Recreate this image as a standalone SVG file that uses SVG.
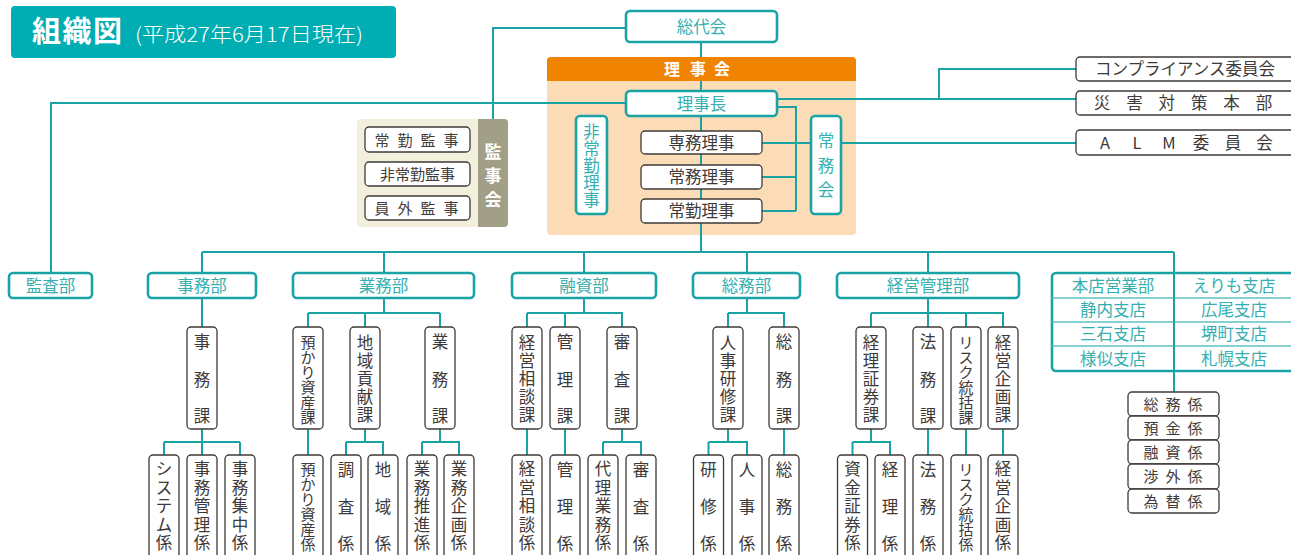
<svg xmlns="http://www.w3.org/2000/svg" width="1291" height="555" viewBox="0 0 1291 555">
<style>
text{font-family:"Noto Sans CJK JP","Noto Sans",sans-serif;}
.tl{fill:#35afb0;font-size:16.5px;text-anchor:middle;}
.dk{fill:#3e3a39;font-size:16.5px;text-anchor:middle;}
.d6{fill:#3e3a39;font-size:15px;text-anchor:middle;}
.ds{fill:#3e3a39;font-size:15px;text-anchor:middle;}
.tbox{fill:#fff;stroke:#19a3a5;stroke-width:2.6;}
.dbox{fill:#fff;stroke:#3e3a39;stroke-width:1.3;}
.ln{fill:none;stroke:#19a3a5;stroke-width:2;}
.dv{fill:none;stroke:#5fc1c2;stroke-width:1.5;}
</style>

<g id="title">
<rect x="11" y="6" width="385" height="52" rx="4" fill="#00adb2"/>
<text x="32" y="42" font-size="29" font-weight="bold" fill="#fff" letter-spacing="1.5">組織図</text>
<text x="135" y="41.5" font-size="20" font-weight="300" fill="#fff" textLength="228" lengthAdjust="spacingAndGlyphs">(平成27年6月17日現在)</text>
</g>

<g id="backgrounds">
<rect x="547" y="57" width="309" height="178" rx="4" fill="#fcdcb7"/>
<rect x="357" y="119" width="151" height="108" rx="4" fill="#f2efdc"/>
</g>

<g id="connectors">
<path class="ln" d="M701,42V57M701,81V252"/>
<path class="ln" d="M626,28H493V119"/>
<path class="ln" d="M626,103H51V273"/>
<path class="ln" d="M777,99H1076M939,99V69H1076"/>
<path class="ln" d="M777,107H796V211M762,143H811M762,177H796M762,211H796"/>
<path class="ln" d="M841,143H1076"/>
<path class="ln" d="M202,252H1174M202,252V273M384,252V273M584,252V273M747,252V273M928,252V273M1174,252V392"/>
<path class="ln" d="M202,298V327M202,429V455M164,442H240M164,442V455M240,442V455"/>
<path class="ln" d="M384,298V313M308,313H440M308,313V327M365,313V327M440,313V327M308,429V455M365,429V442M346,442H383V455M346,442V455M440,429V442M422,442H459V455M422,442V455"/>
<path class="ln" d="M584,298V313M527,313H622V327M527,313V327M565,313V327M527,429V455M565,429V455M622,429V442M603,442H641V455M603,442V455"/>
<path class="ln" d="M747,298V313M728,313H784V327M728,313V327M728,429V442M708.5,442H747V455M708.5,442V455M784,429V455"/>
<path class="ln" d="M928,298V313M871,313H1003V327M871,313V327M928,313V327M966,313V327M871,429V442M852.5,442H890V455M852.5,442V455M928,429V455M966,429V455M1003,429V455"/>
</g>

<g id="sodaikai">
<rect class="tbox" x="626" y="11" width="151" height="31" rx="4"/>
<text class="tl" x="701.5" y="32.5">総代会</text>
</g>

<g id="rijikai">
<path d="M547,81V61a4,4 0 0 1 4,-4H852a4,4 0 0 1 4,4V81Z" fill="#f08300"/>
<text x="672 698 722" y="75" font-size="16" font-weight="bold" fill="#fff" text-anchor="middle">理事会</text>
</g>

<g id="rijicho">
<rect class="tbox" x="626" y="91" width="151" height="25" rx="4"/>
<text class="tl" x="701.5" y="109.5">理事長</text>
</g>

<g id="hijokin">
<rect class="tbox" x="576" y="116" width="31" height="98" rx="4"/>
<text class="tl" font-size="16" x="591.5 591.5 591.5 591.5 591.5" y="138 155 172 189 206">非常勤理事</text>
</g>

<g id="senmu">
<rect class="dbox" x="641" y="131" width="121" height="23" rx="4"/>
<text class="dk" x="701.5" y="148.5">専務理事</text>
</g>
<g id="jomu">
<rect class="dbox" x="641" y="165" width="121" height="24" rx="4"/>
<text class="dk" x="701.5" y="183">常務理事</text>
</g>
<g id="jokin">
<rect class="dbox" x="641" y="199" width="121" height="24" rx="4"/>
<text class="dk" x="701.5" y="217">常勤理事</text>
</g>

<g id="jomukai">
<rect class="tbox" x="811" y="116" width="30" height="98" rx="4"/>
<text class="tl" x="826 826 826" y="147 172 196">常務会</text>
</g>

<g id="kanjikai">
<path d="M478,119H504a4,4 0 0 1 4,4V223a4,4 0 0 1 -4,4H478Z" fill="#a19f87"/>
<text x="493 493 493" y="157.5 181.5 206" font-size="17" font-weight="bold" fill="#fff" text-anchor="middle">監事会</text>
<rect class="dbox" x="365" y="127" width="105" height="25" rx="4"/>
<text class="ds" x="382 405 428 451" y="145.5">常勤監事</text>
<rect class="dbox" x="365" y="162" width="105" height="24" rx="4"/>
<text class="ds" x="417.5" y="179.5" font-size="16">非常勤監事</text>
<rect class="dbox" x="365" y="196" width="105" height="24" rx="4"/>
<text class="ds" x="382 405 428 451" y="213.5">員外監事</text>
</g>

<g id="compliance">
<rect class="dbox" x="1076" y="57" width="240" height="24" rx="4"/>
<text class="dk" font-size="16" x="1185" y="75">コンプライアンス委員会</text>
</g>
<g id="saigai">
<rect class="dbox" x="1076" y="91" width="240" height="24" rx="4"/>
<text class="dk" font-size="16" x="1102 1134.4 1166.8 1199.2 1231.6 1264" y="109">災害対策本部</text>
</g>
<g id="alm">
<rect class="dbox" x="1076" y="130" width="240" height="25" rx="4"/>
<text class="dk" font-size="16" x="1105 1137 1169 1201 1233 1264.5" y="148.5">ALM委員会</text>
</g>

<g id="kansabu"><rect class="tbox" x="9" y="273" width="83" height="25" rx="4"/><text class="tl" x="50.5" y="291.5">監査部</text></g>
<g id="jimubu"><rect class="tbox" x="148" y="273" width="108" height="25" rx="4"/><text class="tl" x="202" y="291.5">事務部</text></g>
<g id="gyomubu"><rect class="tbox" x="293" y="273" width="181" height="25" rx="4"/><text class="tl" x="383.5" y="291.5">業務部</text></g>
<g id="yushibu"><rect class="tbox" x="512" y="273" width="144" height="25" rx="4"/><text class="tl" x="584" y="291.5">融資部</text></g>
<g id="somubu"><rect class="tbox" x="693" y="273" width="107" height="25" rx="4"/><text class="tl" x="746.5" y="291.5">総務部</text></g>
<g id="keieikanribu"><rect class="tbox" x="837" y="273" width="182" height="25" rx="4"/><text class="tl" x="928" y="291.5">経営管理部</text></g>

<g id="branches">
<rect class="tbox" x="1052" y="273" width="260" height="98" rx="4"/>
<path class="dv" d="M1052,298H1291M1052,322H1291M1052,346H1291"/>
<path class="ln" d="M1174,273V371"/>
<text class="tl" x="1113" y="291.5">本店営業部</text>
<text class="tl" x="1234" y="291.5">えりも支店</text>
<text class="tl" x="1113" y="316">静内支店</text>
<text class="tl" x="1234" y="316">広尾支店</text>
<text class="tl" x="1113" y="340">三石支店</text>
<text class="tl" x="1234" y="340">堺町支店</text>
<text class="tl" x="1113" y="364.5">様似支店</text>
<text class="tl" x="1234" y="364.5">札幌支店</text>
</g>

<g id="branch-kakari">
<rect class="dbox" x="1128" y="392" width="91" height="24" rx="4"/>
<text class="ds" x="1151 1173 1195" y="409.5">総務係</text>
<rect class="dbox" x="1128" y="416" width="91" height="24" rx="4"/>
<text class="ds" x="1151 1173 1195" y="433.5">預金係</text>
<rect class="dbox" x="1128" y="440" width="91" height="24" rx="4"/>
<text class="ds" x="1151 1173 1195" y="457.5">融資係</text>
<rect class="dbox" x="1128" y="464" width="91" height="25" rx="4"/>
<text class="ds" x="1151 1173 1195" y="482">渉外係</text>
<rect class="dbox" x="1128" y="489" width="91" height="24" rx="4"/>
<text class="ds" x="1151 1173 1195" y="506.5">為替係</text>
</g>

<g id="ka-jimu"><rect class="dbox" x="187" y="327" width="30" height="102" rx="4"/><text class="dk" x="202 202 202" y="348 386 422">事務課</text></g>
<g id="ka-azukari"><rect class="dbox" x="293" y="327" width="30" height="102" rx="4"/><text class="d6" x="308 308 308 308 308 308" y="348 363 378 393 408 423">預かり資産課</text></g>
<g id="ka-chiiki"><rect class="dbox" x="350" y="327" width="30" height="102" rx="4"/><text class="dk" x="365 365 365 365 365" y="348.5 366.5 384.5 403 421">地域貢献課</text></g>
<g id="ka-gyomu"><rect class="dbox" x="425" y="327" width="30" height="102" rx="4"/><text class="dk" x="440 440 440" y="348 386 422">業務課</text></g>
<g id="ka-keieisodan"><rect class="dbox" x="512" y="327" width="30" height="102" rx="4"/><text class="dk" x="527 527 527 527 527" y="348.5 366.5 384.5 403 421">経営相談課</text></g>
<g id="ka-kanri"><rect class="dbox" x="550" y="327" width="30" height="102" rx="4"/><text class="dk" x="565 565 565" y="348 386 422">管理課</text></g>
<g id="ka-shinsa"><rect class="dbox" x="607" y="327" width="30" height="102" rx="4"/><text class="dk" x="622 622 622" y="348 386 422">審査課</text></g>
<g id="ka-jinji"><rect class="dbox" x="713" y="327" width="30" height="102" rx="4"/><text class="dk" x="728 728 728 728 728" y="348.5 366.5 384.5 403 421">人事研修課</text></g>
<g id="ka-somu"><rect class="dbox" x="769" y="327" width="30" height="102" rx="4"/><text class="dk" x="784 784 784" y="348 386 422">総務課</text></g>
<g id="ka-keiri"><rect class="dbox" x="856" y="327" width="30" height="102" rx="4"/><text class="dk" x="871 871 871 871 871" y="348.5 366.5 384.5 403 421">経理証券課</text></g>
<g id="ka-homu"><rect class="dbox" x="913" y="327" width="30" height="102" rx="4"/><text class="dk" x="928 928 928" y="348 386 422">法務課</text></g>
<g id="ka-risk"><rect class="dbox" x="951" y="327" width="30" height="102" rx="4"/><text class="d6" x="966 966 966 966 966 966" y="348 363 378 393 408 423">リスク統括課</text></g>
<g id="ka-kikaku"><rect class="dbox" x="988" y="327" width="30" height="102" rx="4"/><text class="dk" x="1003 1003 1003 1003 1003" y="348.5 366.5 384.5 403 421">経営企画課</text></g>

<g id="kk-system"><rect class="dbox" x="149" y="455" width="30" height="120" rx="4"/><text class="dk" x="164 164 164 164 164" y="475 493.5 512 530.5 549">システム係</text></g>
<g id="kk-jimukanri"><rect class="dbox" x="187" y="455" width="30" height="120" rx="4"/><text class="dk" x="202 202 202 202 202" y="475 493.5 512 530.5 549">事務管理係</text></g>
<g id="kk-jimushuchu"><rect class="dbox" x="225" y="455" width="30" height="120" rx="4"/><text class="dk" x="240 240 240 240 240" y="475 493.5 512 530.5 549">事務集中係</text></g>
<g id="kk-azukari"><rect class="dbox" x="293" y="455" width="30" height="120" rx="4"/><text class="d6" x="308 308 308 308 308 308" y="474.5 489.5 504.5 519.5 534.5 549.5">預かり資産係</text></g>
<g id="kk-chosa"><rect class="dbox" x="331" y="455" width="30" height="120" rx="4"/><text class="dk" x="346 346 346" y="475.5 513 549.5">調査係</text></g>
<g id="kk-chiiki"><rect class="dbox" x="368" y="455" width="30" height="120" rx="4"/><text class="dk" x="383 383 383" y="475.5 513 549.5">地域係</text></g>
<g id="kk-suishin"><rect class="dbox" x="407" y="455" width="30" height="120" rx="4"/><text class="dk" x="422 422 422 422 422" y="475 493.5 512 530.5 549">業務推進係</text></g>
<g id="kk-gkikaku"><rect class="dbox" x="444" y="455" width="30" height="120" rx="4"/><text class="dk" x="459 459 459 459 459" y="475 493.5 512 530.5 549">業務企画係</text></g>
<g id="kk-keieisodan"><rect class="dbox" x="512" y="455" width="30" height="120" rx="4"/><text class="dk" x="527 527 527 527 527" y="475 493.5 512 530.5 549">経営相談係</text></g>
<g id="kk-kanri"><rect class="dbox" x="550" y="455" width="30" height="120" rx="4"/><text class="dk" x="565 565 565" y="475.5 513 549.5">管理係</text></g>
<g id="kk-dairi"><rect class="dbox" x="588" y="455" width="30" height="120" rx="4"/><text class="dk" x="603 603 603 603 603" y="475 493.5 512 530.5 549">代理業務係</text></g>
<g id="kk-shinsa"><rect class="dbox" x="626" y="455" width="30" height="120" rx="4"/><text class="dk" x="641 641 641" y="475.5 513 549.5">審査係</text></g>
<g id="kk-kenshu"><rect class="dbox" x="693.5" y="455" width="30" height="120" rx="4"/><text class="dk" x="708.5 708.5 708.5" y="475.5 513 549.5">研修係</text></g>
<g id="kk-jinji"><rect class="dbox" x="732" y="455" width="30" height="120" rx="4"/><text class="dk" x="747 747 747" y="475.5 513 549.5">人事係</text></g>
<g id="kk-somu"><rect class="dbox" x="769" y="455" width="30" height="120" rx="4"/><text class="dk" x="784 784 784" y="475.5 513 549.5">総務係</text></g>
<g id="kk-shikin"><rect class="dbox" x="837.5" y="455" width="30" height="120" rx="4"/><text class="dk" x="852.5 852.5 852.5 852.5 852.5" y="475 493.5 512 530.5 549">資金証券係</text></g>
<g id="kk-keiri"><rect class="dbox" x="875" y="455" width="30" height="120" rx="4"/><text class="dk" x="890 890 890" y="475.5 513 549.5">経理係</text></g>
<g id="kk-homu"><rect class="dbox" x="913" y="455" width="30" height="120" rx="4"/><text class="dk" x="928 928 928" y="475.5 513 549.5">法務係</text></g>
<g id="kk-risk"><rect class="dbox" x="951" y="455" width="30" height="120" rx="4"/><text class="d6" x="966 966 966 966 966 966" y="474.5 489.5 504.5 519.5 534.5 549.5">リスク統括係</text></g>
<g id="kk-kikaku"><rect class="dbox" x="988" y="455" width="30" height="120" rx="4"/><text class="dk" x="1003 1003 1003 1003 1003" y="475 493.5 512 530.5 549">経営企画係</text></g>
</svg>
